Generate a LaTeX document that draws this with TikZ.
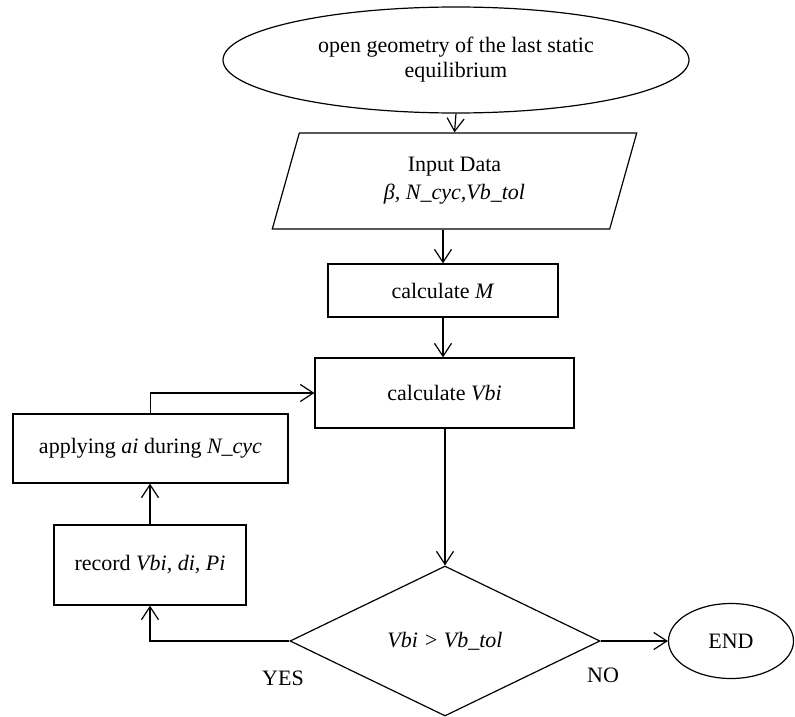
\documentclass[tikz,border=0pt]{standalone}
\usepackage{fontspec}
\setmainfont{Liberation Serif}
\usetikzlibrary{shapes.geometric,arrows.meta}
\begin{document}
\begin{tikzpicture}[x=1pt,y=-1pt,
  every node/.style={font=\fontsize{22}{25}\selectfont, inner sep=0pt, align=center},
  box/.style={draw, line width=1.2pt, rectangle},
  oval/.style={draw, line width=1.2pt, ellipse},
  iobox/.style={draw, line width=1.2pt, trapezium, trapezium left angle=75.4,
    trapezium right angle=104.6, trapezium stretches=true},
  decision/.style={draw, line width=1.2pt, diamond, aspect=2},
  arr/.style={draw, line width=1.2pt, -{Straight Barb[length=13pt,width=17pt]}}
]
\useasboundingbox (0,0) rectangle (795,717);

% process blocks
\node[oval, minimum width=466pt, minimum height=106pt] (start) at (456,60)
  {open geometry of the last static\\equilibrium};
\node[iobox, minimum width=365pt, minimum height=96pt] (input) at (454.5,181)
  {Input Data\\[3pt]\textit{β, N\_cyc,Vb\_tol}};
\node[box, minimum width=230pt, minimum height=53pt] (calcM) at (443,290.5)
  {calculate \textit{M}};
\node[box, minimum width=259pt, minimum height=70pt] (calcV) at (444.5,393)
  {calculate \textit{Vbi}};
\node[box, minimum width=275pt, minimum height=69pt] (apply) at (150.5,448.5)
  {applying \textit{ai} during \textit{N\_cyc}};
\node[box, minimum width=192pt, minimum height=80pt] (record) at (150,565)
  {record \textit{Vbi, di, Pi}};
\node[decision, minimum width=310pt, minimum height=150pt] (dec) at (445,641)
  {\textit{Vbi > Vb\_tol}};
\node[oval, minimum width=125pt, minimum height=75pt] (end) at (731,641) {END};

% branch labels
\node (yes) at (283,678) {YES};
\node (no) at (603,675) {NO};

% connectors
\draw[arr] (start.south) -- (input.north);
\draw[arr] (input.south -| calcM.north) -- (calcM.north);
\draw[arr] (calcM.south) -- (calcM.south |- calcV.north);
\draw[arr] (calcV.south -| dec.north) -- (dec.north);
\draw[arr] (dec.west) -| (record.south);
\draw[arr] (record.north) -- (record.north |- apply.south);
\draw[arr] (apply.north) |- (calcV.west);
\draw[arr] (dec.east) -- (end.west);
\end{tikzpicture}
\end{document}
